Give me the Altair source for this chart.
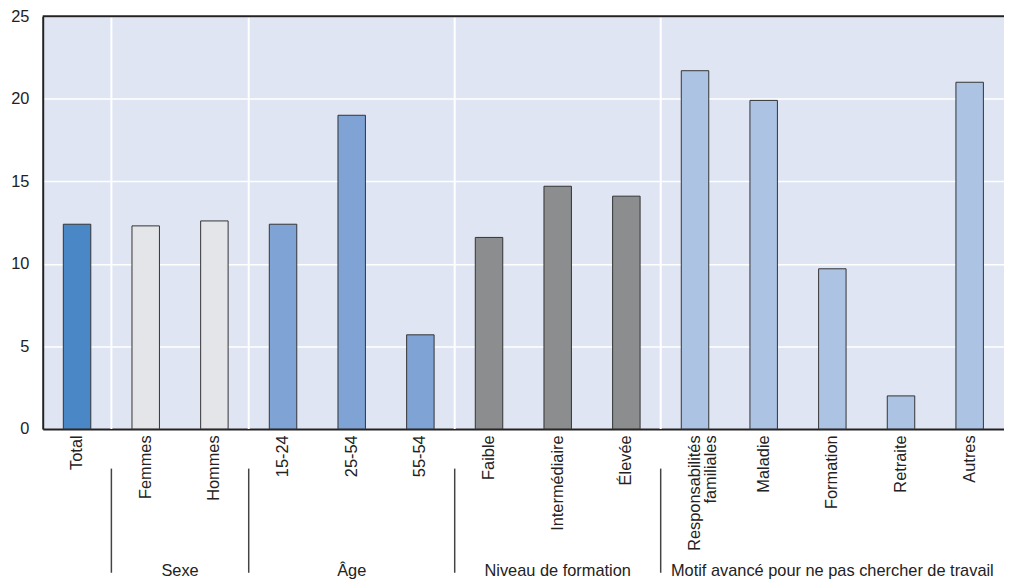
import altair as alt
import pandas as pd

categories = ["Total", "Femmes", "Hommes", "15-24", "25-54", "55-54",
              "Faible", "Intermédiaire", "Élevée",
              "Responsabilités familiales", "Maladie", "Formation", "Retraite", "Autres"]
values = [12.4, 12.3, 12.6, 12.4, 19.0, 5.7, 11.6, 14.7, 14.1, 21.7, 19.9, 9.7, 2.0, 21.0]
groups = ["Total", "Sexe", "Sexe", "Âge", "Âge", "Âge",
          "Niveau", "Niveau", "Niveau", "Motif", "Motif", "Motif", "Motif", "Motif"]
group_names = ["Total", "Sexe", "Âge", "Niveau", "Motif"]
group_colors = ["#4a87c6", "#e4e5e9", "#7fa3d5", "#8c8d8f", "#adc3e4"]

boundary_cats = ["Total", "Hommes", "55-54", "Élevée"]
group_labels_edge = ["Sexe"]
group_anchor_edge = ["Femmes"]
group_labels_mid = ["Âge", "Niveau de formation", "Motif avancé pour ne pas chercher de travail"]
group_anchor_mid = ["25-54", "Intermédiaire", "Formation"]

FONT = "Liberation Sans"
FS = 16.5

df = pd.DataFrame({"category": categories, "value": values, "group": groups})
bdf = pd.DataFrame({"category": boundary_cats})
gedge = pd.DataFrame({"category": group_anchor_edge, "label": group_labels_edge})
gmid = pd.DataFrame({"category": group_anchor_mid, "label": group_labels_mid})
top = pd.DataFrame({"value": [25]})

xs = alt.Scale(domain=categories, paddingInner=0, paddingOuter=0)
ys = alt.Scale(domain=[0, 25], nice=False)

vgrid = alt.Chart(bdf).mark_rule(color="white", strokeWidth=2).encode(
    x=alt.X("category:N", scale=xs, bandPosition=1, title=None)
)

label_expr = "datum.value == 'Responsabilités familiales' ? ['Responsabilités', 'familiales'] : datum.label"

bars = alt.Chart(df).mark_bar(width=alt.RelativeBandSize(0.4), stroke="#333333", strokeWidth=1).encode(
    x=alt.X("category:N", scale=xs, sort=categories, title=None,
            axis=alt.Axis(labelAngle=-90, ticks=False, labelPadding=6, labelFontSize=FS,
                          labelFont=FONT, labelColor="#222222", domainColor="#222222",
                          domainWidth=2, labelExpr=label_expr, labelLineHeight=16)),
    y=alt.Y("value:Q", scale=ys, title=None,
            axis=alt.Axis(values=[0, 5, 10, 15, 20, 25], ticks=False, labelPadding=14,
                          labelFontSize=FS, labelFont=FONT, labelColor="#222222",
                          domainColor="#222222", domainWidth=2,
                          gridColor="white", gridWidth=1.5)),
    color=alt.Color("group:N", scale=alt.Scale(domain=group_names, range=group_colors), legend=None),
)

toprule = alt.Chart(top).mark_rule(color="#222222", strokeWidth=2).encode(
    y=alt.Y("value:Q", scale=ys)
)

seps = alt.Chart(bdf).mark_rule(color="#444444", strokeWidth=1.5).encode(
    x=alt.X("category:N", scale=xs, bandPosition=1, title=None),
    y=alt.value(456), y2=alt.value(561)
)

glab_edge = alt.Chart(gedge).mark_text(fontSize=FS, font=FONT, color="#222222", baseline="alphabetic").encode(
    x=alt.X("category:N", scale=xs, bandPosition=1, title=None),
    y=alt.value(564), text="label:N"
)
glab_mid = alt.Chart(gmid).mark_text(fontSize=FS, font=FONT, color="#222222", baseline="alphabetic").encode(
    x=alt.X("category:N", scale=xs, bandPosition=0.5, title=None),
    y=alt.value(564), text="label:N"
)

chart = alt.layer(vgrid, bars, toprule, seps, glab_edge, glab_mid).properties(
    width=969, height=416,
    padding={"left": 35, "top": 6, "right": 0, "bottom": 150},
    autosize="none",
).configure(font=FONT).configure_view(strokeWidth=0, fill="#dfe5f3")

chart.save("out.html", embed_options={"renderer": "svg", "actions": False})
